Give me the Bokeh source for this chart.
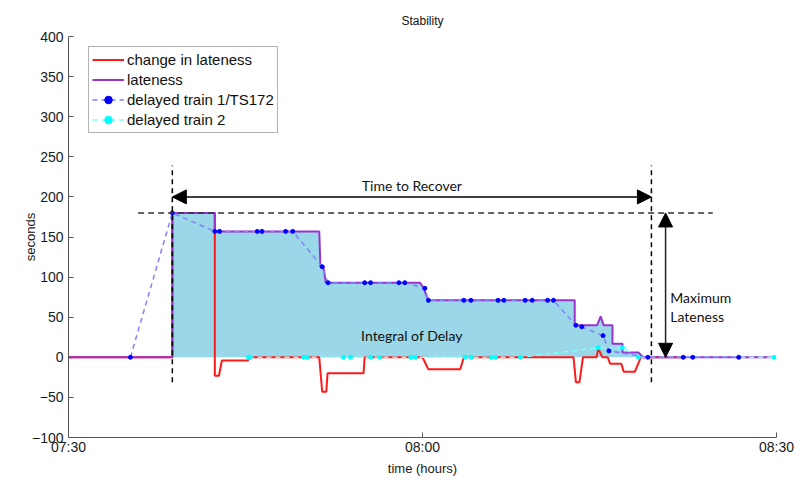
from bokeh.plotting import figure
from bokeh.models import Range1d, FixedTicker, Arrow, NormalHead, Label, Legend, LegendItem
from bokeh.embed import file_html
from bokeh.resources import INLINE

# Time axis is in minutes after 07:30
tick_minutes = [0, 30, 60]
tick_labels = ["07:30", "08:00", "08:30"]
seconds_ticks = [-100, -50, 0, 50, 100, 150, 200, 250, 300, 350, 400]

# Overall lateness (seconds)
lateness_t = [0, 8.8, 8.8, 12.4, 12.4, 21.25, 21.35, 21.6, 21.8, 29.8, 30.1, 30.5,
              42.9, 42.9, 44.8, 45.1, 45.35, 46.1, 46.1, 46.95, 46.95, 48.3, 48.7, 59.6]
lateness_s = [0, 0, 180, 180, 157, 157, 113, 113, 93, 93, 86, 71,
              71, 40, 40, 51, 40, 40, 17, 17, 6, 6, 0, 0]

# Change in lateness (seconds)
change_t = [0, 8.8, 8.8, 12.4, 12.4, 12.75, 13.0, 15.2, 15.4, 21.25, 21.5, 21.85, 21.95,
            25.0, 25.1, 30.0, 30.5, 33.2, 33.5, 42.8, 43.0, 43.3, 43.6, 44.75, 44.9,
            45.25, 45.7, 45.9, 46.85, 47.05, 48.0, 48.5, 52.1]
change_s = [0, 0, 180, 180, -23, -23, -4, -4, 0, 0, -43, -43, -20,
            -20, 0, 0, -15, -15, 0, 0, -31, -31, 0, 0, 11,
            0, 0, -8, -8, -18, -18, 0, 0]

# Delayed train 1 / TS172 (seconds)
train1_t = [5.25, 8.8, 12.4, 12.8, 16.0, 16.4, 18.4, 19.0, 21.5, 22.0, 25.1, 25.6,
            28.0, 28.5, 30.2, 30.5, 33.5, 34.1, 36.4, 36.9, 38.7, 39.3, 40.6, 41.1,
            43.0, 43.5, 45.3, 45.8, 49.1, 52.1, 52.9, 56.8]
train1_s = [0, 180, 157, 157, 157, 157, 157, 157, 113, 93, 93, 93,
            93, 93, 86, 71, 71, 71, 71, 71, 71, 71, 71, 71,
            40, 38, 27, 8, 0, 0, 0, 0]

# Delayed train 2 (seconds)
train2_t = [15.25, 15.4, 19.9, 20.25, 23.3, 23.9, 25.6, 26.4, 29.0, 29.4, 33.6, 34.1,
            35.8, 36.2, 38.3, 44.9, 46.95, 48.3, 59.8]
train2_s = [0, 0, 0, 0, 0, 0, 0, 0, 0, 0, 0, 0,
            0, 0, 0, 12, 12, 0, 0]

# Recovery window and peak lateness
recovery_start = 8.8
recovery_end = 49.4
max_lateness = 180
window_top = 239
window_bottom = -31

p = figure(width=797, height=482, output_backend="svg", toolbar_location=None,
           x_range=Range1d(0, 60), y_range=Range1d(-100, 400),
           min_border_left=68, min_border_right=21, min_border_top=36, min_border_bottom=45,
           title="Stability")
p.title.align = "center"
p.title.text_font = "Liberation Sans"
p.title.text_font_size = "12px"
p.title.text_font_style = "normal"
p.title.text_color = "#111111"
p.title.standoff = 17
p.outline_line_color = None
p.background_fill_color = "white"
p.xgrid.visible = False
p.ygrid.visible = False

for ax in (p.xaxis[0], p.yaxis[0]):
    ax.major_tick_in = 5
    ax.major_tick_out = 0
    ax.minor_tick_in = 0
    ax.minor_tick_out = 0
    ax.axis_line_color = "#555555"
    ax.major_tick_line_color = "#555555"
    ax.major_label_text_font = "Liberation Sans"
    ax.major_label_text_font_size = "14px"
    ax.major_label_text_color = "#1a1a1a"
    ax.axis_label_text_font = "Liberation Sans"
    ax.axis_label_text_font_size = "13px"
    ax.axis_label_text_font_style = "normal"
    ax.axis_label_text_color = "#1a1a1a"

p.xaxis.ticker = FixedTicker(ticks=tick_minutes)
p.xaxis.major_label_overrides = dict(zip(tick_minutes, tick_labels))
p.xaxis.axis_label = "time (hours)"
p.xaxis.major_label_standoff = 1
p.xaxis.axis_label_standoff = 3
p.yaxis.ticker = FixedTicker(ticks=seconds_ticks)
p.yaxis.axis_label = "seconds"
p.yaxis.major_label_standoff = 5
p.yaxis.axis_label_standoff = -9

# Integral of delay: area under the lateness curve
p.varea(x=lateness_t, y1=0, y2=lateness_s, fill_color="#9ad7e8")

r_change = p.line(change_t, change_s, line_color="#ff1a1a", line_width=2)
r_late = p.line(lateness_t, lateness_s, line_color="#9933cc", line_width=2)

r_t2_line = p.line(train2_t, train2_s, line_color="#7fffff", line_width=1.5, line_dash="5 4")
r_t2_dots = p.scatter(train2_t, train2_s, marker="circle", size=4, fill_color="#00ffff",
                      line_color="#00ffff")
r_t1_line = p.line(train1_t, train1_s, line_color="#8080ff", line_width=1.5, line_dash="5 4")
r_t1_dots = p.scatter(train1_t, train1_s, marker="circle", size=4, fill_color="#0000ff",
                      line_color="#0000ff")

# Recovery window markers
p.segment(x0=[recovery_start, recovery_end], y0=[window_bottom, window_bottom],
          x1=[recovery_start, recovery_end], y1=[window_top, window_top],
          line_color="black", line_width=1.5, line_dash="5 4")
p.segment(x0=[5.9], y0=[max_lateness], x1=[54.6], y1=[max_lateness],
          line_color="#333333", line_width=1.5, line_dash="6 4")

p.add_layout(Arrow(start=NormalHead(size=14, fill_color="black", line_color="black"),
                   end=NormalHead(size=14, fill_color="black", line_color="black"),
                   x_start=recovery_start, y_start=200, x_end=recovery_end, y_end=200,
                   line_color="black", line_width=1.5))
p.add_layout(Arrow(start=NormalHead(size=14, fill_color="black", line_color="black"),
                   end=NormalHead(size=14, fill_color="black", line_color="black"),
                   x_start=50.6, y_start=max_lateness, x_end=50.6, y_end=0,
                   line_color="#222222", line_width=1.5))

label_style = dict(text_font="Lato", text_font_size="14px", text_color="#111111")
p.add_layout(Label(x=(recovery_start + recovery_end) / 2, y=214, text="Time to Recover",
                   text_align="center", text_baseline="middle", **label_style))
p.add_layout(Label(x=29.1, y=27, text="Integral of Delay",
                   text_align="center", text_baseline="middle", **label_style))
p.add_layout(Label(x=51.0, y=74, text="Maximum",
                   text_align="left", text_baseline="middle", **label_style))
p.add_layout(Label(x=51.0, y=51, text="Lateness",
                   text_align="left", text_baseline="middle", **label_style))

legend = Legend(items=[
    LegendItem(label="change in lateness", renderers=[r_change]),
    LegendItem(label="lateness", renderers=[r_late]),
    LegendItem(label="delayed train 1/TS172", renderers=[r_t1_line, r_t1_dots]),
    LegendItem(label="delayed train 2", renderers=[r_t2_line, r_t2_dots]),
], location=(20, 304))
legend.label_text_font = "Liberation Sans"
legend.label_text_font_size = "15px"
legend.label_text_color = "#111111"
legend.label_height = 19
legend.glyph_height = 19
legend.glyph_width = 32
legend.label_standoff = 3
legend.spacing = 1
legend.padding = 3
legend.margin = 0
legend.border_line_color = "#666666"
legend.border_line_width = 1
legend.background_fill_color = "white"
legend.background_fill_alpha = 1
p.add_layout(legend)

open("out.html", "w").write(file_html(p, INLINE))
